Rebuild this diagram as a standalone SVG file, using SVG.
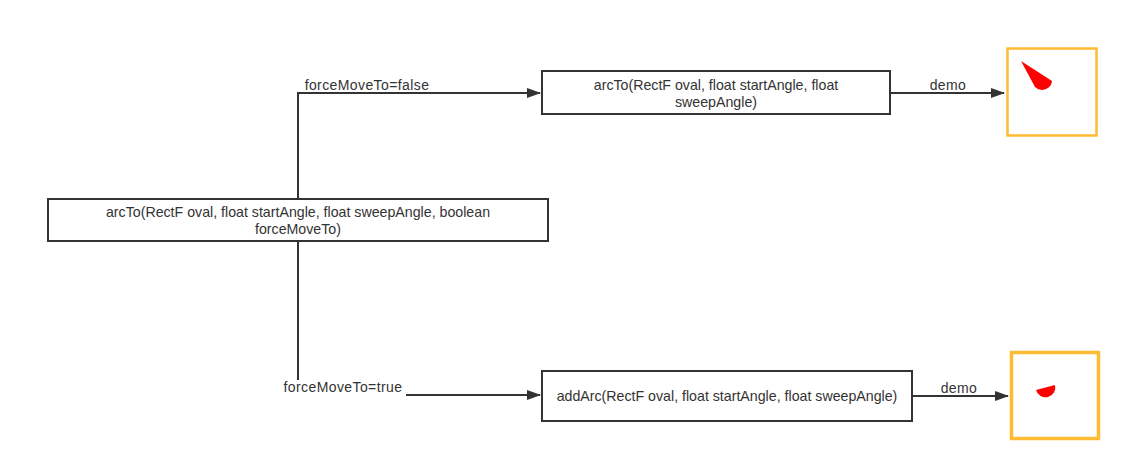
<svg xmlns="http://www.w3.org/2000/svg" width="1132" height="474" viewBox="0 0 1132 474">
<defs>
<marker id="arr" markerWidth="14" markerHeight="10" refX="13" refY="5" orient="auto" markerUnits="userSpaceOnUse">
<path d="M0,0 L14,5 L0,10 Z" fill="#333"/>
</marker>
</defs>
<style>
.box{fill:#fff;stroke:#333;stroke-width:2}
.t{font-family:"Liberation Sans",Arial,sans-serif;font-size:14.2px;fill:#333;text-anchor:middle}
.lbl{font-family:"Liberation Sans",Arial,sans-serif;font-size:14px;fill:#333;text-anchor:middle;letter-spacing:0.4px}
.ln{fill:none;stroke:#333;stroke-width:2}
.img{fill:#fff;stroke:#FFBB33}
</style>
<rect width="1132" height="474" fill="#fff"/>
<g id="connectors">
<path class="ln" d="M298,199 L298,93 L540,93" marker-end="url(#arr)"/>
<path class="ln" d="M298,242 L298,395 L540,395" marker-end="url(#arr)"/>
<path class="ln" d="M890,93 L1004,93" marker-end="url(#arr)"/>
<path class="ln" d="M912,396 L1008,396" marker-end="url(#arr)"/>
<rect x="302" y="78" width="128" height="14" fill="#fff"/>
<text class="lbl" x="367" y="90">forceMoveTo=false</text>
<rect x="281" y="380" width="125" height="16" fill="#fff"/>
<text class="lbl" x="343" y="392">forceMoveTo=true</text>
<rect x="930" y="78" width="36" height="14" fill="#fff"/>
<text class="lbl" x="948" y="90">demo</text>
<rect x="941" y="381" width="37" height="14" fill="#fff"/>
<text class="lbl" x="959" y="393">demo</text>
</g>
<g id="node-main">
<rect class="box" x="48" y="199" width="500" height="42"/>
<text class="t" x="298" y="216.5">arcTo(RectF oval, float startAngle, float sweepAngle, boolean</text>
<text class="t" x="298" y="233.5">forceMoveTo)</text>
</g>
<g id="node-arcto">
<rect class="box" x="542" y="71" width="348" height="43"/>
<text class="t" x="716" y="89.5">arcTo(RectF oval, float startAngle, float</text>
<text class="t" x="716" y="106.5">sweepAngle)</text>
</g>
<g id="node-addarc">
<rect class="box" x="542" y="371" width="370" height="50"/>
<text class="t" x="727" y="401">addArc(RectF oval, float startAngle, float sweepAngle)</text>
</g>
<g id="demo-arcto">
<rect class="img" x="1007.5" y="48.5" width="89" height="87" stroke-width="2.5"/>
<path d="M1021,61 L1052,81 A10,10 0 0 1 1035,87 Z" fill="#f00"/>
</g>
<g id="demo-addarc">
<rect class="img" x="1011.5" y="352.5" width="87" height="86" stroke-width="3.5"/>
<path d="M1036,390 L1055,385 A9.5,9.5 0 0 1 1036,390 Z" fill="#f00"/>
</g>
</svg>
